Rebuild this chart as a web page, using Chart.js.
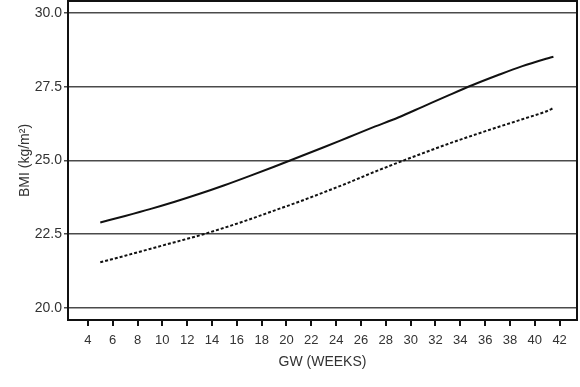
<!DOCTYPE html>
<html>
<head>
<meta charset="utf-8">
<script src="https://cdn.jsdelivr.net/npm/chart.js@4/dist/chart.umd.min.js"></script>
<style>
  html, body { margin: 0; padding: 0; background: #fff; }
  #wrap { width: 580px; height: 387px; }
</style>
</head>
<body>
<div id="wrap"><canvas id="c" width="580" height="387"></canvas></div>
<script>
const weeks      = [5, 7, 9, 11, 13, 15, 17, 19, 21, 23, 25, 27, 29, 31, 33, 35, 37, 39, 41, 41.5];
const solidBMI   = [22.90, 23.12, 23.35, 23.60, 23.87, 24.16, 24.47, 24.79, 25.12, 25.45, 25.79, 26.13, 26.46, 26.83, 27.20, 27.56, 27.89, 28.20, 28.46, 28.52];
const dashedBMI  = [21.55, 21.77, 22.00, 22.23, 22.46, 22.72, 23.00, 23.30, 23.60, 23.92, 24.25, 24.60, 24.93, 25.25, 25.56, 25.85, 26.13, 26.40, 26.68, 26.78];
const xTicks     = [4, 6, 8, 10, 12, 14, 16, 18, 20, 22, 24, 26, 28, 30, 32, 34, 36, 38, 40, 42];
const yTicks     = [20, 22.5, 25, 27.5, 30];
const xTitle     = 'GW (WEEKS)';
const yTitle     = 'BMI (kg/m\u00B2)';

const toPts = (xs, ys) => xs.map((x, i) => ({ x: x, y: ys[i] }));

const frame = {
  id: 'frame',
  afterDraw(chart) {
    const { ctx, chartArea: a } = chart;
    ctx.save();
    ctx.strokeStyle = '#111';
    ctx.lineWidth = 2;
    ctx.strokeRect(a.left, a.top, a.right - a.left, a.bottom - a.top);
    ctx.restore();
  }
};

const family = '"Liberation Sans", Arial, Helvetica, sans-serif';

new Chart(document.getElementById('c'), {
  type: 'line',
  data: {
    datasets: [
      {
        data: toPts(weeks, solidBMI),
        borderColor: '#111',
        borderWidth: 2,
        pointRadius: 0,
        cubicInterpolationMode: 'monotone',
        fill: false
      },
      {
        data: toPts(weeks, dashedBMI),
        borderColor: '#111',
        borderWidth: 2,
        borderDash: [3, 2],
        pointRadius: 0,
        cubicInterpolationMode: 'monotone',
        fill: false
      }
    ]
  },
  options: {
    responsive: false,
    animation: false,
    devicePixelRatio: 1,
    layout: { padding: { top: 1, right: 3, left: 0, bottom: 0 } },
    plugins: { legend: { display: false }, tooltip: { enabled: false } },
    scales: {
      x: {
        type: 'linear',
        min: 2.4,
        max: 43.4,
        afterBuildTicks: (s) => { s.ticks = xTicks.map(v => ({ value: v })); },
        afterFit: (s) => { s.height = 67; s.paddingLeft = 0; s.paddingRight = 0; },
        grid: { drawOnChartArea: false, drawTicks: true, tickLength: 6, color: '#111', lineWidth: 2 },
        border: { display: true, color: '#111', width: 2 },
        ticks: { color: '#333', font: { family: family, size: 13 }, padding: 7, maxRotation: 0, autoSkip: false },
        title: { display: true, text: xTitle, color: '#333', font: { family: family, size: 14 }, padding: { top: 4, bottom: 16 } }
      },
      y: {
        type: 'linear',
        min: 19.59,
        max: 30.41,
        afterBuildTicks: (s) => { s.ticks = yTicks.map(v => ({ value: v })); },
        afterFit: (s) => { s.width = 68; s.paddingTop = 0; s.paddingBottom = 0; },
        grid: { drawOnChartArea: true, drawTicks: true, tickLength: 4, color: '#4a4a4a', lineWidth: 1.5 },
        border: { display: true, color: '#111', width: 2 },
        ticks: { color: '#333', font: { family: family, size: 14 }, padding: 2, callback: (v) => Number(v).toFixed(1) },
        title: { display: true, text: yTitle, color: '#333', font: { family: family, size: 14 }, padding: { top: 17, bottom: 4 } }
      }
    }
  },
  plugins: [frame]
});
</script>
</body>
</html>
